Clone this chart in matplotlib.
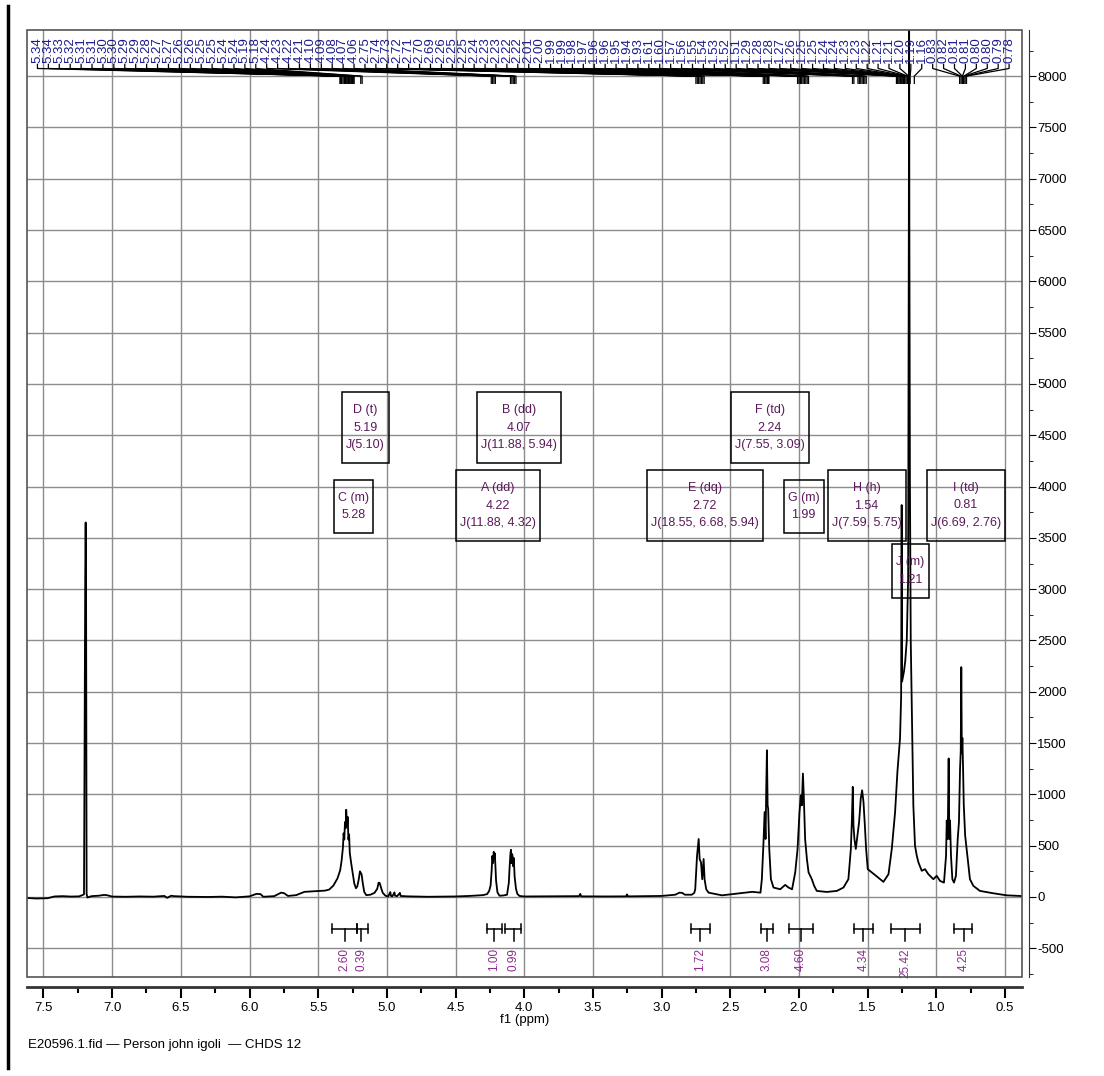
import numpy as np
import matplotlib
matplotlib.use("Agg")
import matplotlib.pyplot as plt
from matplotlib.lines import Line2D
from matplotlib.patches import Rectangle
from matplotlib.ticker import MultipleLocator, FormatStrFormatter

plt.rcParams["font.family"] = ["Liberation Sans", "DejaVu Sans"]

# spectrum trace (ppm, intensity), high field on the right
spectrum_ppm = [
    7.62, 7.55, 7.47, 7.42, 7.36, 7.30, 7.24, 7.205, 7.196, 7.193, 7.190, 7.186, 7.18,
    7.15, 7.10, 7.06, 7.04, 7.00, 6.90, 6.80, 6.70, 6.62, 6.60, 6.57, 6.55, 6.45, 6.30,
    6.20, 6.10, 6.00, 5.95, 5.92, 5.90, 5.82, 5.77, 5.75, 5.72, 5.66, 5.60, 5.55, 5.50,
    # C / D
    5.45, 5.42, 5.39, 5.36, 5.34, 5.33, 5.32, 5.315, 5.31, 5.305, 5.30, 5.296, 5.29,
    5.285, 5.28, 5.275, 5.27, 5.26, 5.25, 5.237, 5.225, 5.215, 5.205, 5.196, 5.19,
    5.184, 5.175, 5.165, 5.15, 5.12, 5.09, 5.07, 5.06, 5.052, 5.04, 5.03, 5.01, 4.99,
    4.975, 4.97, 4.96, 4.945, 4.94, 4.925, 4.905, 4.90, 4.85, 4.70, 4.50, 4.40, 4.30,
    # A / B
    4.27, 4.255, 4.245, 4.237, 4.232, 4.227, 4.222, 4.218, 4.214, 4.21, 4.205, 4.195,
    4.18, 4.15, 4.125, 4.112, 4.106, 4.101, 4.097, 4.093, 4.089, 4.085, 4.081, 4.076,
    4.07, 4.06, 4.05, 4.035, 4.00, 3.80, 3.60, 3.592, 3.585, 3.40, 3.258, 3.252, 3.245,
    3.00, 2.90, 2.87, 2.85, 2.83, 2.78,
    # E
    2.762, 2.755, 2.742, 2.73, 2.723, 2.713, 2.704, 2.694, 2.687, 2.675, 2.658, 2.597,
    2.56, 2.44, 2.34, 2.28,
    # F / G
    2.27, 2.258, 2.25, 2.243, 2.238, 2.233, 2.228, 2.224, 2.216, 2.204, 2.185, 2.136,
    2.10, 2.076, 2.05, 2.027, 2.01, 1.996, 1.986, 1.979, 1.971, 1.964, 1.955, 1.942,
    1.93, 1.906, 1.889, 1.87, 1.797, 1.724, 1.676, 1.64,
    # H
    1.622, 1.615, 1.608, 1.603, 1.596, 1.586, 1.574, 1.562, 1.55, 1.54, 1.53, 1.52,
    1.511, 1.499, 1.47, 1.433, 1.385, 1.348, 1.324, 1.30, 1.283,
    # J
    1.264, 1.256, 1.252, 1.249, 1.235, 1.226, 1.215, 1.205, 1.200, 1.198, 1.196, 1.192,
    1.186, 1.18, 1.174, 1.167, 1.155, 1.142, 1.13, 1.106, 1.082, 1.058, 1.021, 0.997,
    0.973, 0.944,
    # I
    0.929, 0.924, 0.917, 0.91, 0.905, 0.90, 0.893, 0.883, 0.871, 0.857, 0.844, 0.835,
    0.827, 0.822, 0.818, 0.814, 0.81, 0.805, 0.80, 0.79, 0.774, 0.755, 0.73, 0.682,
    0.585, 0.488, 0.39, 0.376,
]
spectrum_int = [
    -10, -15, -12, 5, 8, 4, 6, 25, 3140, 3650, 3100, 30, -5,
    8, 12, 20, 18, 4, 2, 5, 3, 10, -8, 12, 8, 2, 0,
    3, -4, 6, 30, 28, 2, 8, 42, 38, 10, 18, 50, 54, 58,
    62, 72, 110, 180, 260, 350, 480, 620, 560, 730, 670, 850, 690,
    780, 560, 610, 430, 330, 240, 130, 85, 105, 170, 250, 235,
    220, 130, 50, 18, 22, 40, 80, 140, 135, 80, 40, 12, 5,
    48, 10, 6, 45, 12, 8, 40, 10, 6, 2, 5, 10, 18,
    28, 60, 110, 260, 400, 330, 440, 380, 425, 300, 160, 45,
    12, 15, 22, 140, 300, 410, 460, 330, 420, 400, 300, 380,
    200, 80, 30, 10, 5, 6, 8, 30, 6, 5, 6, 25, 6,
    10, 22, 42, 40, 22, 22,
    40, 75, 400, 565, 370, 337, 173, 370, 173, 75, 42, 26,
    16, 35, 50, 42,
    173, 533, 827, 565, 1056, 1430, 893, 860, 468, 173, 92, 75,
    118, 92, 75, 240, 468, 827, 990, 893, 1203, 958, 565, 370,
    240, 173, 108, 59, 49, 59, 92, 173,
    468, 730, 1073, 697, 565, 468, 598, 730, 958, 1040, 925, 697,
    468, 271, 240, 200, 147, 222, 468, 827, 1220,
    1547, 1950, 3820, 2100, 2200, 2300, 2500, 3100, 6500, 9000, 6500, 4066,
    2500, 2000, 1547, 893, 500, 402, 337, 255, 271, 222, 173, 206,
    157, 140,
    402, 745, 565, 1350, 565, 745, 402, 173, 140, 206, 565, 730,
    1252, 1420, 2240, 1400, 1550, 1250, 900, 600, 402, 173, 108, 59,
    36, 16, 10, 8,
]

# peak picking labels along the top
peak_labels = [
    5.34, 5.34, 5.33, 5.32, 5.31, 5.31, 5.30, 5.30, 5.29, 5.29, 5.28, 5.27, 5.27,
    5.26, 5.26, 5.25, 5.25, 5.24, 5.24, 5.19, 5.18,
    4.24, 4.23, 4.22, 4.21, 4.10, 4.09, 4.08, 4.07, 4.06,
    2.75, 2.74, 2.73, 2.72, 2.71, 2.70, 2.69,
    2.26, 2.25, 2.25, 2.24, 2.23, 2.23, 2.22, 2.22,
    2.01, 2.00, 1.99, 1.99, 1.98, 1.97, 1.96, 1.96, 1.95, 1.94, 1.93,
    1.61, 1.60, 1.57, 1.56, 1.55, 1.54, 1.53, 1.52, 1.51,
    1.29, 1.28, 1.28, 1.27, 1.26, 1.25, 1.25, 1.24, 1.24, 1.23, 1.23, 1.22, 1.21,
    1.21, 1.20, 1.19, 1.16,
    0.83, 0.82, 0.81, 0.81, 0.80, 0.80, 0.79, 0.78,
]

# integrals
integral_values = ["2.60", "0.39", "1.00", "0.99", "1.72", "3.08", "4.60", "4.34", "25.42", "4.25"]
integral_start = [5.400, 5.216, 4.271, 4.138, 2.786, 2.279, 2.069, 1.598, 1.331, 0.871]
integral_end = [5.216, 5.136, 4.162, 4.024, 2.650, 2.190, 1.894, 1.462, 1.118, 0.738]
integral_center = [5.306, 5.185, 4.218, 4.077, 2.718, 2.233, 1.986, 1.530, 1.225, 0.800]

# multiplet reports
mult_names = ["D (t)", "C (m)", "B (dd)", "A (dd)", "F (td)", "E (dq)", "G (m)", "H (h)", "J (m)", "I (td)"]
mult_shifts = ["5.19", "5.28", "4.07", "4.22", "2.24", "2.72", "1.99", "1.54", "1.21", "0.81"]
mult_couplings = ["J(5.10)", "", "J(11.88, 5.94)", "J(11.88, 4.32)", "J(7.55, 3.09)",
                  "J(18.55, 6.68, 5.94)", "", "J(7.59, 5.75)", "", "J(6.69, 2.76)"]

W, H = 1104, 1076
fig = plt.figure(figsize=(W / 100, H / 100), dpi=100)
ax = fig.add_axes([27 / W, 1 - 977 / H, 995 / W, 947 / H])

ax.plot(spectrum_ppm, spectrum_int, color="black", lw=1.3, zorder=3)
ax.set_xlim(7.62, 0.376)
ax.set_ylim(-780, 8450)

ax.xaxis.set_major_locator(MultipleLocator(0.5))
ax.xaxis.set_minor_locator(MultipleLocator(0.25))
ax.xaxis.set_major_formatter(FormatStrFormatter("%.1f"))
ax.yaxis.set_major_locator(MultipleLocator(500))
ax.yaxis.set_minor_locator(MultipleLocator(250))
ax.yaxis.set_major_formatter(FormatStrFormatter("%d"))
ax.yaxis.tick_right()

ax.grid(True, which="major", color="#8c8c8c", lw=1.0)
ax.set_axisbelow(True)

for side in ["left", "top"]:
    ax.spines[side].set_visible(False)
ax.spines["bottom"].set_position(("outward", 7))
ax.spines["bottom"].set_linewidth(2)
ax.spines["bottom"].set_color("#333333")
ax.spines["right"].set_position(("outward", 5))
ax.spines["right"].set_color("#333333")
ax.add_patch(Rectangle((0, 0), 1, 1, transform=ax.transAxes, fill=False,
                       ec="#555555", lw=1.2, clip_on=False, zorder=4))

ax.tick_params(axis="x", which="major", direction="out", length=8, width=1.5, labelsize=9.5, pad=3)
ax.tick_params(axis="x", which="minor", direction="out", length=4, width=1.5)
ax.tick_params(axis="y", which="major", direction="out", length=5, labelsize=9.5, pad=1)
ax.tick_params(axis="y", which="minor", direction="out", length=3)
ax.set_xlabel("f1 (ppm)", fontsize=9.5, labelpad=0)

# peak picking labels and their leader lines
label_x = np.linspace(7.544, 0.47, len(peak_labels))
for lx, val in zip(label_x, peak_labels):
    ax.text(lx, 8125, f"{val:.2f}", rotation=90, ha="center", va="bottom",
            fontsize=9.5, color="#1a1a8c", zorder=5)
    ax.plot([lx, lx, val, val], [8115, 8075, 8000, 7930], color="black", lw=0.9, zorder=5)

# integral brackets
for s, e, c, v in zip(integral_start, integral_end, integral_center, integral_values):
    ax.plot([s, e], [-312, -312], color="black", lw=1.1)
    ax.plot([s, s], [-268, -356], color="black", lw=1.1)
    ax.plot([e, e], [-268, -356], color="black", lw=1.1)
    ax.plot([c, c], [-312, -430], color="black", lw=1.1)
    ax.text(c, -500, v, rotation=90, ha="center", va="top", fontsize=8.5, color="#8e2a8e")

# multiplet boxes
box_pos = [(5.158, 4573), (5.242, 3803), (4.038, 4573), (4.191, 3812), (2.213, 4573),
           (2.685, 3812), (1.965, 3803), (1.507, 3812), (1.187, 3179), (0.784, 3817)]
box_texts = []
for (bx, by), name, shift, jc in zip(box_pos, mult_names, mult_shifts, mult_couplings):
    lines = [name, shift] + ([jc] if jc else [])
    t = ax.text(bx, by, "\n".join(lines), ha="center", va="center", fontsize=9,
                color="#5a1a5a", linespacing=1.6, zorder=6)
    box_texts.append(t)

fig.canvas.draw()
renderer = fig.canvas.get_renderer()
inv = ax.transData.inverted()
for t in box_texts:
    bb = t.get_window_extent(renderer)
    (x0, y0), (x1, y1) = inv.transform([[bb.x0 - 4, bb.y0 - 12], [bb.x1 + 4, bb.y1 + 12]])
    ax.add_patch(Rectangle((x0, y0), x1 - x0, y1 - y0, fill=False, ec="black", lw=1.1, zorder=6))

fig.text(28 / W, 1 - 1045 / H, "E20596.1.fid \u2014 Person john igoli  \u2014 CHDS 12",
         fontsize=9.5, va="center", ha="left")
fig.add_artist(Line2D([8 / W, 8 / W], [1 - 6 / H, 1 - 1068 / H], color="black", lw=2.5))

fig.savefig("out.png", dpi=100)
